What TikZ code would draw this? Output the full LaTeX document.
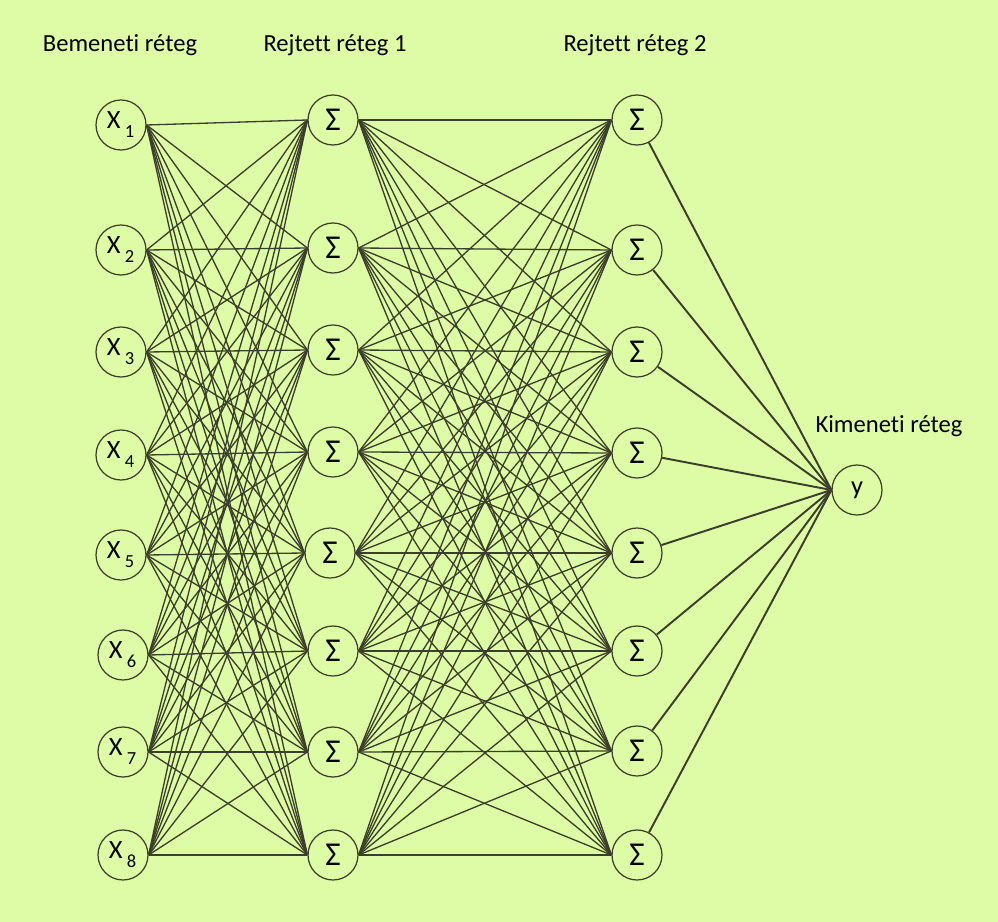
\documentclass[tikz,border=0pt]{standalone}
\usepackage{fontspec}
\setmainfont{Carlito}[Ligatures=CommonOff]
\usepackage{xcolor}
\usepackage{tikz}
\usetikzlibrary{positioning}
\definecolor{bgcol}{RGB}{221,252,165}
\definecolor{wirecol}{RGB}{58,62,42}
\tikzset{
  inp/.style   ={circle,draw=wirecol,fill=bgcol,line width=0.7pt,minimum size=1cm,inner sep=0pt,font=\fontsize{15}{17}\selectfont},
  sum/.style   ={inp,font=\fontsize{19}{21}\selectfont},
  layername/.style={font=\fontsize{14}{16}\selectfont},
  wire/.style  ={wirecol,line width=0.75pt},
  outwire/.style={wirecol,line width=1.1pt},
}
\newcommand{\xin}[1]{X\,\textsubscript{\raisebox{-0.6ex}{#1}}}

\begin{document}
\begin{tikzpicture}[x=0.02cm,y=-0.02cm]
  \fill[bgcol] (0,0) rectangle (998,922);
  \node[layername](ln0) at (120,45){Bemeneti réteg};  \node[layername](ln1) at (335,45){Rejtett réteg 1};
  \node[layername](ln2) at (635,45){Rejtett réteg 2}; \node[layername](ln3) at (889,426){Kimeneti réteg};
  \node[inp](x1) at (121,125){\xin{1}};  \node[inp](x2) at (121,250){\xin{2}};  \node[inp](x3) at (121,352){\xin{3}};  \node[inp](x4) at (121,455){\xin{4}};
  \node[inp](x5) at (121,555){\xin{5}};  \node[inp](x6) at (123,655){\xin{6}};  \node[inp](x7) at (123,752){\xin{7}};  \node[inp](x8) at (123,855){\xin{8}};
  \node[sum](a1) at (333,120){Σ};  \node[sum](a2) at (333,248){Σ};  \node[sum](a3) at (333,350){Σ};  \node[sum](a4) at (333,452){Σ};
  \node[sum](a5) at (330,553){Σ};  \node[sum](a6) at (333,651){Σ};  \node[sum](a7) at (333,752){Σ};  \node[sum](a8) at (333,855){Σ};
  \node[sum](b1) at (637,120){Σ};  \node[sum](b2) at (637,250){Σ};  \node[sum](b3) at (637,352){Σ};  \node[sum](b4) at (637,453){Σ};
  \node[sum](b5) at (637,553){Σ};  \node[sum](b6) at (637,651){Σ};  \node[sum](b7) at (637,751){Σ};  \node[sum](b8) at (637,855){Σ};
  \node[inp](y) at (857,490){y};
  \foreach \i in {1,...,8}{\foreach \j in {1,...,8}{\draw[wire](x\i.east)--(a\j.west); \draw[wire](a\i.east)--(b\j.west);}}
  \foreach \j in {1,...,8}{\draw[outwire](b\j)--(y.west);}
\end{tikzpicture}
\end{document}
